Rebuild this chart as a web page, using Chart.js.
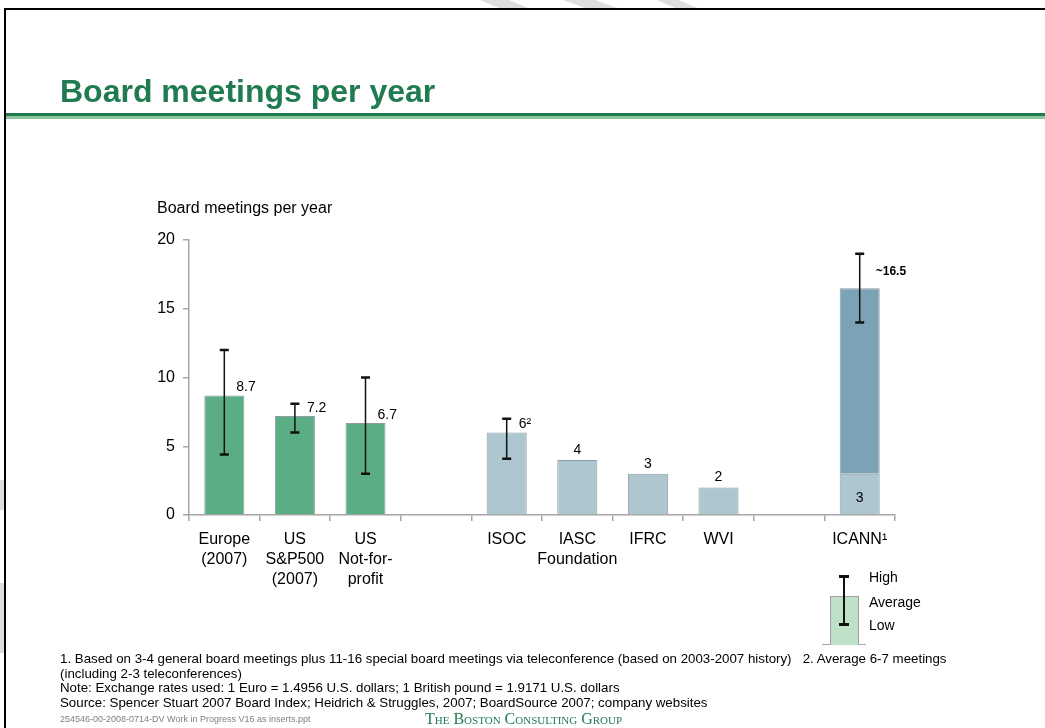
<!DOCTYPE html>
<html>
<head>
<meta charset="utf-8">
<script src="https://cdn.jsdelivr.net/npm/chart.js@4.4.1/dist/chart.umd.min.js"></script>
<style>
  body { margin: 0; width: 1045px; height: 728px; overflow: hidden; background: #fff; font-family: "Liberation Sans", Arial, sans-serif; }
  #wrap { position: absolute; left: 0; top: 0; width: 1045px; height: 728px; }
  canvas { position: absolute; left: 0; top: 0; }
  .abs { position: absolute; white-space: nowrap; }
  .mark { position: absolute; background: #dedede; }
  #frameTop { left: 4px; top: 8px; width: 1041px; height: 2px; background: #000; }
  #frameLeft { left: 4px; top: 8px; width: 2px; height: 720px; background: #000; }
  #title { left: 60px; top: 73px; font-size: 32px; font-weight: bold; color: #217b50; }
  #ruleDark { left: 6px; top: 113px; width: 1039px; height: 3px; background: #217b50; }
  #ruleLight { left: 6px; top: 116px; width: 1039px; height: 3px; background: #8cc49e; }
  #yTitle { left: 157px; top: 199px; font-size: 16px; color: #000; }
  .legText { font-size: 14px; color: #000; }
  #notes { left: 60px; top: 652px; font-size: 13.3px; line-height: 14.5px; color: #000; }
  #code { left: 60px; top: 714px; font-size: 9px; color: #808080; }
  #bcg { left: 425px; top: 710px; font-family: "Liberation Serif", "Times New Roman", serif; font-variant: small-caps; font-size: 16px; color: #217b50; }
</style>
</head>
<body>
<div id="wrap"><canvas id="chart" width="1045" height="728"></canvas></div>
<!-- faint watermark fragments outside the frame -->
<div class="mark" style="left:480px;top:0;width:48px;height:8px;clip-path:polygon(0 0,60% 0,100% 100%,40% 100%);"></div>
<div class="mark" style="left:563px;top:0;width:54px;height:8px;clip-path:polygon(0 0,60% 0,100% 100%,40% 100%);"></div>
<div class="mark" style="left:657px;top:0;width:40px;height:8px;clip-path:polygon(0 0,55% 0,100% 100%,45% 100%);"></div>
<div class="mark" style="left:0;top:480px;width:4px;height:30px;"></div>
<div class="mark" style="left:0;top:583px;width:4px;height:70px;"></div>

<div class="abs" id="frameTop"></div>
<div class="abs" id="frameLeft"></div>
<div class="abs" id="title">Board meetings per year</div>
<div class="abs" id="ruleDark"></div>
<div class="abs" id="ruleLight"></div>
<div class="abs" id="yTitle">Board meetings per year</div>

<!-- legend -->
<div class="abs" style="left:822px;top:644px;width:44px;height:1px;background:#a6a6a6;"></div>
<div class="abs" style="left:830px;top:596px;width:27px;height:48px;background:#bfe1c8;border:1px solid #a0a0a0;border-bottom:none;"></div>
<div class="abs" style="left:843px;top:576px;width:1.5px;height:48px;background:#111;"></div>
<div class="abs" style="left:839px;top:575px;width:10px;height:2.5px;background:#111;"></div>
<div class="abs" style="left:839px;top:623px;width:10px;height:2.5px;background:#111;"></div>
<div class="abs legText" style="left:869px;top:569px;">High</div>
<div class="abs legText" style="left:869px;top:594px;">Average</div>
<div class="abs legText" style="left:869px;top:617px;">Low</div>

<div class="abs" id="notes">1. Based on 3-4 general board meetings plus 11-16 special board meetings via teleconference (based on 2003-2007 history)&nbsp;&nbsp; 2. Average 6-7 meetings<br>(including 2-3 teleconferences)<br>Note: Exchange rates used: 1 Euro = 1.4956 U.S. dollars; 1 British pound = 1.9171 U.S. dollars<br>Source: Spencer Stuart 2007 Board Index; Heidrich &amp; Struggles, 2007; BoardSource 2007; company websites</div>
<div class="abs" id="code">254546-00-2008-0714-DV Work in Progress V16 as inserts.ppt</div>
<div class="abs" id="bcg">The Boston Consulting Group</div>

<script>
// Chart data
const categories = [
    ["Europe", "(2007)"], ["US", "S&P500", "(2007)"], ["US", "Not-for-", "profit"], "",
    "ISOC", ["IASC", "Foundation"], "IFRC", "WVI", "", "ICANN¹"
];
const baseMeetings = [8.7, 7.2, 6.7, null, 6, 4, 3, 2, null, 3];
const extraMeetings = [null, null, null, null, null, null, null, null, null, 13.5];
const highs = [12, 8.1, 10, null, 7, null, null, null, null, 19];
const lows = [4.4, 6, 3, null, 4.1, null, null, null, null, 14];
const valueLabels = ["8.7", "7.2", "6.7", "", "6²", "4", "3", "2", "", "~16.5"];
const segmentLabels = ["", "", "", "", "", "", "", "", "", "3"];
const yTicks = [0, 5, 10, 15, 20];

const green = '#5bae83';
const blue = '#adc6cf';
const darkBlue = '#7ba3b5';
const edge = '#8f9da3';

// error bars + value labels
const barLabels = {
    id: 'barLabels',
    afterDatasetsDraw(chart) {
        const ctx = chart.ctx;
        const y = chart.scales.y;
        const bars = chart.getDatasetMeta(0).data;
        ctx.save();
        bars.forEach((bar, i) => {
            if (baseMeetings[i] == null) return;
            const total = baseMeetings[i] + (extraMeetings[i] || 0);
            const top = y.getPixelForValue(total);

            if (highs[i] != null) {
                const hi = y.getPixelForValue(highs[i]);
                const lo = y.getPixelForValue(lows[i]);
                ctx.strokeStyle = '#111';
                ctx.lineWidth = 1.5;
                ctx.beginPath();
                ctx.moveTo(bar.x, hi);
                ctx.lineTo(bar.x, lo);
                ctx.stroke();
                ctx.lineWidth = 2.5;
                ctx.beginPath();
                ctx.moveTo(bar.x - 4.5, hi);
                ctx.lineTo(bar.x + 4.5, hi);
                ctx.moveTo(bar.x - 4.5, lo);
                ctx.lineTo(bar.x + 4.5, lo);
                ctx.stroke();
            }

            ctx.fillStyle = '#000';
            if (extraMeetings[i] != null) {
                ctx.font = 'bold 12px "Liberation Sans", Arial, sans-serif';
                ctx.textAlign = 'left';
                ctx.textBaseline = 'middle';
                ctx.fillText(valueLabels[i], bar.x + 16, top - 16);
            } else if (highs[i] != null) {
                ctx.font = '14px "Liberation Sans", Arial, sans-serif';
                ctx.textAlign = 'left';
                ctx.textBaseline = 'bottom';
                ctx.fillText(valueLabels[i], bar.x + 12, top - 1);
            } else {
                ctx.font = '14px "Liberation Sans", Arial, sans-serif';
                ctx.textAlign = 'center';
                ctx.textBaseline = 'bottom';
                ctx.fillText(valueLabels[i], bar.x, top - 3);
            }

            if (segmentLabels[i]) {
                ctx.font = '14px "Liberation Sans", Arial, sans-serif';
                ctx.textAlign = 'center';
                ctx.textBaseline = 'middle';
                const mid = (y.getPixelForValue(0) + y.getPixelForValue(baseMeetings[i])) / 2;
                ctx.fillText(segmentLabels[i], bar.x, mid + 4);
            }
        });
        ctx.restore();
    }
};

new Chart(document.getElementById('chart'), {
    type: 'bar',
    data: {
        labels: categories,
        datasets: [
            {
                data: baseMeetings,
                backgroundColor: c => c.dataIndex < 3 ? green : blue,
                borderColor: edge,
                borderWidth: 1
            },
            {
                data: extraMeetings,
                backgroundColor: darkBlue,
                borderColor: edge,
                borderWidth: 1
            }
        ]
    },
    options: {
        responsive: false,
        animation: false,
        barPercentage: 0.567,
        categoryPercentage: 1,
        layout: { padding: { left: 100, top: 240, right: 150, bottom: 133 } },
        plugins: { legend: { display: false }, tooltip: { enabled: false } },
        scales: {
            x: {
                stacked: true,
                afterFit: s => { s.height = 80; },
                grid: { offset: true, drawOnChartArea: false, tickLength: 6, color: '#a6a6a6', lineWidth: 1.5 },
                border: { color: '#a6a6a6', width: 1.5 },
                ticks: {
                    color: '#000', padding: 9, maxRotation: 0, autoSkip: false,
                    font: { family: '"Liberation Sans", Arial, sans-serif', size: 16, lineHeight: 1.25 }
                }
            },
            y: {
                stacked: true,
                min: 0,
                max: 20,
                afterFit: s => { s.width = 89; },
                afterBuildTicks: s => { s.ticks = yTicks.map(v => ({ value: v })); },
                grid: { drawOnChartArea: false, tickLength: 6, color: '#a6a6a6', lineWidth: 1.5 },
                border: { color: '#a6a6a6', width: 1.5 },
                ticks: {
                    color: '#000', padding: 8,
                    font: { family: '"Liberation Sans", Arial, sans-serif', size: 16 }
                }
            }
        }
    },
    plugins: [barLabels]
});
</script>
</body>
</html>
